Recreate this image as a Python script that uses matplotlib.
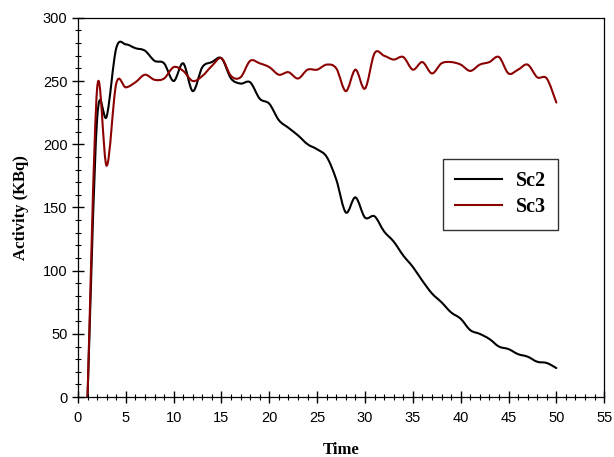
import numpy as np
import matplotlib
matplotlib.use("Agg")
import matplotlib.pyplot as plt
from matplotlib.path import Path
from matplotlib.patches import PathPatch
from matplotlib.lines import Line2D
from matplotlib.ticker import MultipleLocator

time = list(range(1, 51))
sc2 = [0, 220, 222, 276, 279, 276, 274, 266, 264, 250,
       264, 242, 261, 265, 268, 252, 248, 249, 236, 232,
       219, 213, 207, 200, 196, 190, 172, 146, 158, 142,
       143, 131, 123, 112, 103, 92, 82, 75, 67, 62,
       53, 50, 46, 40, 38, 34, 32, 28, 27, 23]
sc3 = [0, 244, 183, 248, 245, 249, 255, 251, 252, 261,
       258, 250, 254, 262, 268, 254, 253, 266, 264, 261,
       255, 257, 252, 259, 259, 263, 260, 242, 259, 244,
       272, 270, 267, 269, 259, 265, 256, 264, 265, 263,
       258, 263, 265, 269, 256, 259, 263, 253, 252, 233]
names = ["Sc2", "Sc3"]
colors = ["black", "#8b0000"]


def smooth_path(x, y):
    # catmull-rom through the points, as cubic bezier segments
    x = np.asarray(x, float)
    y = np.asarray(y, float)
    verts = [(x[0], y[0])]
    codes = [Path.MOVETO]
    n = len(x)
    for i in range(n - 1):
        i0 = max(i - 1, 0)
        i3 = min(i + 2, n - 1)
        c1 = (x[i] + (x[i + 1] - x[i0]) / 6, y[i] + (y[i + 1] - y[i0]) / 6)
        c2 = (x[i + 1] - (x[i3] - x[i]) / 6, y[i + 1] - (y[i3] - y[i]) / 6)
        verts += [c1, c2, (x[i + 1], y[i + 1])]
        codes += [Path.CURVE4] * 3
    return Path(verts, codes)


fig = plt.figure(figsize=(6.14, 4.57), dpi=100)
ax = fig.add_axes([0.127, 0.131, 0.857, 0.830])

handles = []
for vals, name, col in zip([sc2, sc3], names, colors):
    ax.add_patch(PathPatch(smooth_path(time, vals), fill=False,
                           edgecolor=col, lw=1.5, capstyle="round",
                           joinstyle="round"))
    handles.append(Line2D([], [], color=col, lw=1.5))

ax.set_xlim(0, 55)
ax.set_ylim(0, 300)
ax.xaxis.set_major_locator(MultipleLocator(5))
ax.xaxis.set_minor_locator(MultipleLocator(1))
ax.yaxis.set_major_locator(MultipleLocator(50))
ax.yaxis.set_minor_locator(MultipleLocator(10))
ax.tick_params(which="major", direction="inout", length=8, width=1,
               labelsize=10.5, top=False, right=False)
ax.tick_params(which="minor", direction="inout", length=5, width=0.8,
               top=False, right=False)
ax.tick_params(axis="x", pad=6)
for lab in ax.get_xticklabels() + ax.get_yticklabels():
    lab.set_fontfamily("Liberation Sans")
for s in ax.spines.values():
    s.set_linewidth(0.9)

ax.set_xlabel("Time", fontfamily="Liberation Serif", fontweight="bold",
              fontsize=12, labelpad=12)
ax.set_ylabel("Activity (KBq)", fontfamily="Liberation Serif",
              fontweight="bold", fontsize=12, labelpad=10)

leg = ax.legend(handles, names, loc="upper left",
                bbox_to_anchor=(0.694, 0.627), borderaxespad=0,
                fancybox=False, edgecolor="#333333", framealpha=1,
                prop={"family": "Liberation Serif", "weight": "bold",
                      "size": 14.5},
                handlelength=2.3, borderpad=0.6, labelspacing=0.3,
                handletextpad=0.7)
leg.get_frame().set_linewidth(1.0)

fig.savefig("out.png", dpi=100)
